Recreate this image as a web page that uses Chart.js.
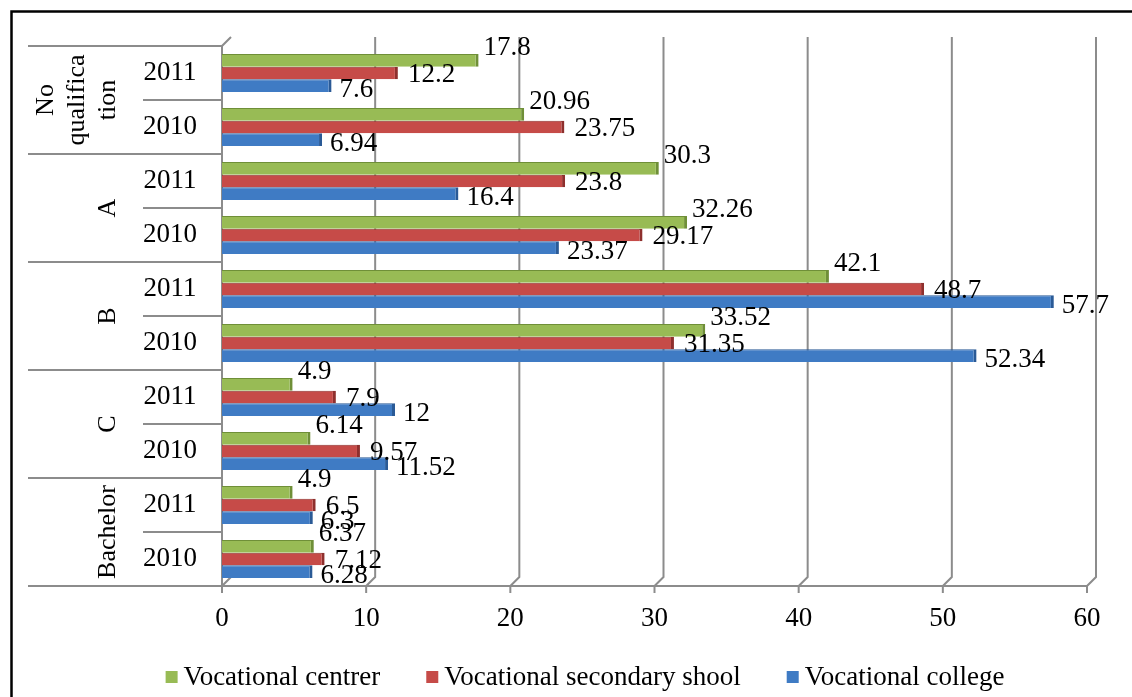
<!DOCTYPE html>
<html>
<head>
<meta charset="utf-8">
<script src="https://cdn.jsdelivr.net/npm/chart.js@4"></script>
<style>
  html, body { margin: 0; padding: 0; background: #fff; }
  canvas { display: block; }
</style>
</head>
<body>
<canvas id="chart" width="1132" height="697"></canvas>
<script>
// rows run top to bottom: each group has 2011 then 2010
const groups = [["No", "qualifica", "tion"], ["A"], ["B"], ["C"], ["Bachelor"]];
const years = ["2011", "2010"];
const xTicks = [0, 10, 20, 30, 40, 50, 60];

const seriesNames = ["Vocational centrer", "Vocational secondary shool", "Vocational college"];
const centreValues = [17.8, 20.96, 30.3, 32.26, 42.1, 33.52, 4.9, 6.14, 4.9, 6.37];
const secondaryValues = [12.2, 23.75, 23.8, 29.17, 48.7, 31.35, 7.9, 9.57, 6.5, 7.12];
const collegeValues = [7.6, 6.94, 16.4, 23.37, 57.7, 52.34, 12, 11.52, 6.3, 6.28];

const colours = ["#98bb55", "#c64b48", "#3f7bc4"];
const edgeColours = ["#6f8f38", "#8e2f2d", "#2a5a96"];
// label offsets per series, roughly where Excel put them
const labelOffsets = [{ dx: 5, dy: -12 }, { dx: 10, dy: 2 }, { dx: 8, dy: 4 }];

const rowLabels = [];
groups.forEach(g => years.forEach(y => rowLabels.push(g.join("") + " " + y)));

const FONT = "'Liberation Serif', 'Times New Roman', serif";
const GRID = "#8c8c8c";
const DEPTH = 9;

const excelPlugin = {
  id: "excelLook",
  beforeDraw(chart) {
    const ctx = chart.ctx;
    ctx.save();
    ctx.fillStyle = "#fff";
    ctx.fillRect(0, 0, chart.width, chart.height);
    ctx.strokeStyle = "#000";
    ctx.lineWidth = 2.5;
    ctx.beginPath();
    ctx.moveTo(11.5, chart.height);
    ctx.lineTo(11.5, 11.5);
    ctx.lineTo(chart.width, 11.5);
    ctx.stroke();
    ctx.restore();
  },
  beforeDatasetsDraw(chart) {
    const ctx = chart.ctx;
    const area = chart.chartArea;
    const xs = chart.scales.x;
    const ys = chart.scales.y;
    ctx.save();

    // back wall gridlines with 3D depth
    ctx.strokeStyle = GRID;
    ctx.lineWidth = 2;
    xTicks.forEach(v => {
      const xf = xs.getPixelForValue(v);
      const xb = xf + DEPTH;
      ctx.beginPath();
      if (v === 0) {
        ctx.moveTo(xb, area.top - DEPTH);
        ctx.lineTo(xf, area.top);
        ctx.lineTo(xf, area.bottom);
        ctx.lineTo(xb, area.bottom - DEPTH);
      } else {
        ctx.moveTo(xb, area.top - DEPTH);
        ctx.lineTo(xb, area.bottom - DEPTH);
        ctx.lineTo(xf, area.bottom);
      }
      ctx.stroke();
      ctx.beginPath();
      ctx.moveTo(xf, area.bottom);
      ctx.lineTo(xf, area.bottom + 7);
      ctx.stroke();
    });

    // category table on the left and the floor line
    const groupLeft = 28;
    const yearLeft = 143;
    const boundaries = [area.top];
    for (let i = 0; i < rowLabels.length - 1; i++) {
      boundaries.push((ys.getPixelForValue(i) + ys.getPixelForValue(i + 1)) / 2);
    }
    boundaries.push(area.bottom);
    boundaries.forEach((y, i) => {
      const isGroupEdge = i % years.length === 0;
      ctx.beginPath();
      ctx.moveTo(isGroupEdge ? groupLeft : yearLeft, y);
      ctx.lineTo(i === boundaries.length - 1 ? xs.getPixelForValue(60) : area.left, y);
      ctx.stroke();
    });

    // tick labels
    ctx.fillStyle = "#000";
    ctx.font = "27px " + FONT;
    ctx.textAlign = "center";
    ctx.textBaseline = "middle";
    xTicks.forEach(v => ctx.fillText(String(v), xs.getPixelForValue(v), area.bottom + 33));

    // year labels
    rowLabels.forEach((_, i) => {
      ctx.fillText(years[i % years.length], 170, ys.getPixelForValue(i));
    });

    // group labels, rotated
    ctx.font = "26px " + FONT;
    groups.forEach((lines, g) => {
      const yc = (ys.getPixelForValue(g * 2) + ys.getPixelForValue(g * 2 + 1)) / 2;
      const lineGap = 31;
      lines.forEach((line, k) => {
        const xc = 108 - (lines.length - 1 - k) * lineGap;
        ctx.save();
        ctx.translate(xc, yc);
        ctx.rotate(-Math.PI / 2);
        ctx.fillText(line, 0, 0);
        ctx.restore();
      });
    });

    // legend
    ctx.font = "27px " + FONT;
    ctx.textAlign = "left";
    const box = 12, boxGap = 6, itemGap = 46;
    const widths = seriesNames.map(n => ctx.measureText(n).width);
    const total = widths.reduce((s, w) => s + w + box + boxGap, 0) + itemGap * (seriesNames.length - 1);
    let lx = 585 - total / 2;
    const ly = 677;
    seriesNames.forEach((name, i) => {
      ctx.fillStyle = colours[i];
      ctx.fillRect(lx, ly - box / 2, box, box);
      ctx.fillStyle = "#000";
      ctx.fillText(name, lx + box + boxGap, ly + 1);
      lx += box + boxGap + widths[i] + itemGap;
    });

    ctx.restore();
  },
  afterDatasetsDraw(chart) {
    const ctx = chart.ctx;
    ctx.save();
    ctx.fillStyle = "#000";
    ctx.font = "27px " + FONT;
    ctx.textAlign = "left";
    ctx.textBaseline = "middle";
    chart.data.datasets.forEach((ds, di) => {
      const meta = chart.getDatasetMeta(di);
      meta.data.forEach((bar, i) => {
        const off = labelOffsets[di];
        ctx.fillText(String(ds.data[i]), bar.x + off.dx, bar.y + off.dy);
      });
    });
    ctx.restore();
  }
};

const valueSets = [centreValues, secondaryValues, collegeValues];

new Chart(document.getElementById("chart"), {
  type: "bar",
  data: {
    labels: rowLabels,
    datasets: valueSets.map((values, i) => ({
      label: seriesNames[i],
      data: values,
      backgroundColor: colours[i],
      borderColor: edgeColours[i],
      borderWidth: { top: 1, right: 3, bottom: 0, left: 0 },
      borderSkipped: "start",
      categoryPercentage: 0.7,
      barPercentage: 1
    }))
  },
  options: {
    indexAxis: "y",
    responsive: false,
    animation: false,
    devicePixelRatio: 1,
    layout: { padding: { left: 222, right: 45, top: 46, bottom: 111 } },
    plugins: {
      legend: { display: false },
      tooltip: { enabled: false }
    },
    scales: {
      x: { display: false, min: 0, max: 60 },
      y: { display: false }
    }
  },
  plugins: [excelPlugin]
});
</script>
</body>
</html>
